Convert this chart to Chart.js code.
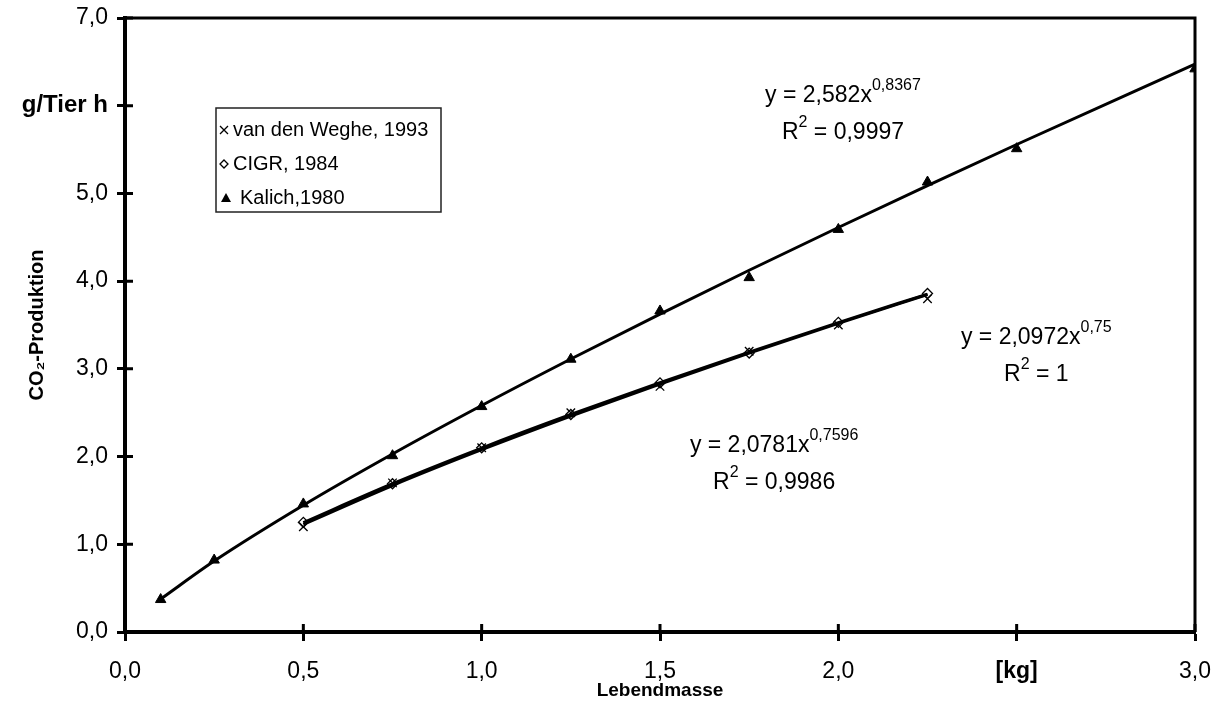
<!DOCTYPE html>
<html>
<head>
<meta charset="utf-8">
<script src="https://cdn.jsdelivr.net/npm/chart.js@4.4.1/dist/chart.umd.min.js"></script>
<style>
  html, body { margin: 0; padding: 0; background: #fff; }
  #wrap { width: 1224px; height: 725px; position: relative; }
</style>
</head>
<body>
<div id="wrap"><canvas id="co2Chart"></canvas></div>
<script>
// --- DATA: live weight [kg] vs. CO2 output [g per animal and hour] ---
const massSmall = [0.5, 0.75, 1.0, 1.25, 1.5, 1.75, 2.0, 2.25];
const wegheCO2 = [1.20, 1.70, 2.10, 2.50, 2.80, 3.20, 3.50, 3.80];
const cigrCO2 = [1.25, 1.69, 2.10, 2.48, 2.84, 3.18, 3.53, 3.86];
const massKalich = [0.1, 0.25, 0.5, 0.75, 1.0, 1.25, 1.5, 1.75, 2.0, 2.25, 2.5, 3.0];
const kalichCO2 = [0.37, 0.82, 1.46, 2.01, 2.57, 3.11, 3.66, 4.04, 4.59, 5.13, 5.51, 6.42];
const seriesNames = ['van den Weghe, 1993', 'CIGR, 1984', 'Kalich,1980'];

// power trendlines y = a * x^b (same order as seriesNames)
const fitFactor = [2.0781, 2.0972, 2.582];
const fitExponent = [0.7596, 0.75, 0.8367];
const fitR2 = [0.9986, 1, 0.9997];

const xTickValues = [0, 0.5, 1.0, 1.5, 2.0, 2.5, 3.0];
const xTickLabels = ['0,0', '0,5', '1,0', '1,5', '2,0', '[kg]', '3,0'];
const yTickValues = [0, 1, 2, 3, 4, 5, 6, 7];
const yTickLabels = ['0,0', '1,0', '2,0', '3,0', '4,0', '5,0', 'g/Tier h', '7,0'];

// where the trendline equations sit (data coordinates of the text centre)
const fitLabelPos = [
    { x: 1.82, y: 2.13 },
    { x: 2.555, y: 3.36 },
    { x: 2.013, y: 6.12 }
];

const FONT = '"Liberation Sans", Arial, sans-serif';

const comma = v => String(v).replace('.', ',');
const points = (xs, ys) => xs.map((x, i) => ({ x: x, y: ys[i] }));
const trend = (xs, k) => xs.map(x => ({ x: x, y: fitFactor[k] * Math.pow(x, fitExponent[k]) }));

function drawMarker(ctx, style, x, y, r) {
    ctx.save();
    ctx.lineWidth = 1.3;
    ctx.strokeStyle = '#000';
    ctx.fillStyle = '#000';
    ctx.beginPath();
    if (style === 'crossRot') {
        ctx.moveTo(x - r, y - r); ctx.lineTo(x + r, y + r);
        ctx.moveTo(x + r, y - r); ctx.lineTo(x - r, y + r);
        ctx.stroke();
    } else if (style === 'rectRot') {
        ctx.moveTo(x, y - r); ctx.lineTo(x + r, y); ctx.lineTo(x, y + r); ctx.lineTo(x - r, y);
        ctx.closePath();
        ctx.fillStyle = '#fff';
        ctx.fill();
        ctx.stroke();
    } else {
        ctx.moveTo(x, y - r); ctx.lineTo(x + r, y + r * 0.8); ctx.lineTo(x - r, y + r * 0.8);
        ctx.closePath();
        ctx.fill();
    }
    ctx.restore();
}

// text run with superscript parts, centred on (cx, cy)
function drawRich(ctx, parts, cx, cy) {
    const big = '23px ' + FONT, small = '16px ' + FONT;
    let total = 0;
    parts.forEach(p => { ctx.font = p.sup ? small : big; p.w = ctx.measureText(p.t).width; total += p.w; });
    let x = cx - total / 2;
    ctx.textAlign = 'left';
    ctx.textBaseline = 'middle';
    ctx.fillStyle = '#000';
    parts.forEach(p => {
        ctx.font = p.sup ? small : big;
        ctx.fillText(p.t, x, p.sup ? cy - 10 : cy);
        x += p.w;
    });
}

const decorPlugin = {
    id: 'decor',
    afterDraw(chart) {
        const { ctx, chartArea: a, scales: { x: xs, y: ys } } = chart;
        ctx.save();

        // top and right frame
        ctx.strokeStyle = '#000';
        ctx.lineWidth = 3;
        ctx.beginPath();
        ctx.moveTo(a.left, a.top); ctx.lineTo(a.right, a.top); ctx.lineTo(a.right, a.bottom);
        ctx.stroke();

        // inner half of the crossing tick marks
        ctx.lineWidth = 3;
        ctx.beginPath();
        yTickValues.forEach(v => {
            const py = ys.getPixelForValue(v);
            ctx.moveTo(a.left, py); ctx.lineTo(a.left + 8, py);
        });
        xTickValues.forEach(v => {
            const px = xs.getPixelForValue(v);
            ctx.moveTo(px, a.bottom); ctx.lineTo(px, a.bottom - 8);
        });
        ctx.stroke();

        // legend box
        const lx = 216, ly = 108, lw = 225, lh = 104;
        ctx.fillStyle = '#fff';
        ctx.fillRect(lx, ly, lw, lh);
        ctx.lineWidth = 1.5;
        ctx.strokeStyle = '#222';
        ctx.strokeRect(lx, ly, lw, lh);
        const styles = ['crossRot', 'rectRot', 'triangle'];
        ctx.font = '20px ' + FONT;
        ctx.textAlign = 'left';
        ctx.textBaseline = 'middle';
        seriesNames.forEach((name, i) => {
            const ry = ly + 22 + i * 34;
            const mx = i === 2 ? lx + 10 : lx + 8;
            drawMarker(ctx, styles[i], mx, ry, i === 2 ? 5 : 4);
            ctx.fillStyle = '#000';
            ctx.fillText(name, i === 2 ? lx + 24 : lx + 17, ry);
        });

        // trendline equations
        fitFactor.forEach((a0, k) => {
            const cx = xs.getPixelForValue(fitLabelPos[k].x);
            const cy = ys.getPixelForValue(fitLabelPos[k].y);
            drawRich(ctx, [{ t: 'y = ' + comma(a0) + 'x' }, { t: comma(fitExponent[k]), sup: true }], cx, cy);
            drawRich(ctx, [{ t: 'R' }, { t: '2', sup: true }, { t: ' = ' + comma(fitR2[k]) }], cx, cy + 37);
        });
        ctx.restore();
    }
};

const tickFont = c => {
    const unit = c.tick && ((c.scale.axis === 'y' && c.tick.value === 6) || (c.scale.axis === 'x' && c.tick.value === 2.5));
    return { family: FONT, size: unit && c.scale.axis === 'y' ? 24 : 23, weight: unit ? 'bold' : 'normal' };
};

const ctx = document.getElementById('co2Chart').getContext('2d');
new Chart(ctx, {
    type: 'scatter',
    data: {
        datasets: [
            { label: seriesNames[0], data: points(massSmall, wegheCO2), pointStyle: 'crossRot', pointRadius: 6, borderColor: '#000', borderWidth: 1.3, order: 2 },
            { label: seriesNames[1], data: points(massSmall, cigrCO2), pointStyle: 'rectRot', pointRadius: 5, backgroundColor: '#fff', borderColor: '#000', borderWidth: 1.3, order: 2 },
            { label: seriesNames[2], data: points(massKalich, kalichCO2), pointStyle: 'triangle', pointRadius: 6, backgroundColor: '#000', borderColor: '#000', borderWidth: 1, order: 2 },
            { label: 'fit0', data: trend(massSmall, 0), showLine: true, pointRadius: 0, borderColor: '#000', borderWidth: 3, cubicInterpolationMode: 'monotone', order: 1 },
            { label: 'fit1', data: trend(massSmall, 1), showLine: true, pointRadius: 0, borderColor: '#000', borderWidth: 3, cubicInterpolationMode: 'monotone', order: 1 },
            { label: 'fit2', data: trend(massKalich, 2), showLine: true, pointRadius: 0, borderColor: '#000', borderWidth: 3, cubicInterpolationMode: 'monotone', order: 1 }
        ]
    },
    options: {
        responsive: true,
        maintainAspectRatio: false,
        animation: false,
        layout: { padding: { left: 0, right: 29, top: 18, bottom: 0 } },
        plugins: { legend: { display: false }, tooltip: { enabled: false } },
        scales: {
            x: {
                type: 'linear', min: 0, max: 3,
                afterBuildTicks: s => { s.ticks = xTickValues.map(v => ({ value: v })); },
                afterFit: s => { s.height = 93; s.paddingLeft = 0; s.paddingRight = 0; },
                ticks: { color: '#000', font: tickFont, padding: 17, maxRotation: 0, callback: (v, i) => xTickLabels[i] },
                grid: { drawOnChartArea: false, tickLength: 9, tickWidth: 3, tickColor: '#000' },
                border: { display: true, color: '#000', width: 4 },
                title: { display: true, text: 'Lebendmasse', color: '#000', font: { family: FONT, size: 19, weight: 'bold' }, padding: { top: 0, bottom: 23 } }
            },
            y: {
                type: 'linear', min: 0, max: 7,
                afterBuildTicks: s => { s.ticks = yTickValues.map(v => ({ value: v })); },
                afterFit: s => { s.width = 125; s.paddingTop = 0; s.paddingBottom = 0; },
                ticks: { color: '#000', font: tickFont, padding: 9, callback: (v, i) => yTickLabels[i] },
                grid: { drawOnChartArea: false, tickLength: 8, tickWidth: 3, tickColor: '#000' },
                border: { display: true, color: '#000', width: 4 },
                title: { display: true, text: 'CO₂-Produktion', color: '#000', font: { family: FONT, size: 20, weight: 'bold' }, padding: { top: 25, bottom: 0 } }
            }
        }
    },
    plugins: [decorPlugin]
});
</script>
</body>
</html>
